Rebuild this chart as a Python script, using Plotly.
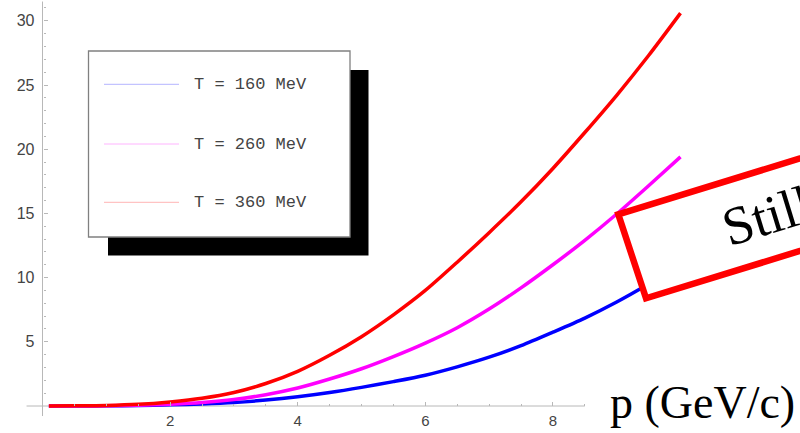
import math
import plotly.graph_objects as go

# ---------------- data ----------------
p_values = [0.1, 0.5, 1.0, 1.5, 2.0, 2.5, 3.0, 3.5, 4.0, 4.5, 5.0,
            5.5, 6.0, 6.5, 7.0, 7.5, 8.0, 8.5, 9.0, 9.5, 10.0]
t160 = [0.0, 0.0, 0.01, 0.03, 0.09, 0.16, 0.27, 0.46, 0.72, 1.05, 1.45,
        1.9, 2.4, 3.05, 3.8, 4.7, 5.75, 6.85, 8.1, 9.5, 11.0]
t260 = [0.0, 0.0, 0.02, 0.06, 0.14, 0.27, 0.5, 0.88, 1.4, 2.1, 2.9,
        3.85, 4.9, 6.1, 7.55, 9.2, 11.0, 12.9, 14.95, 17.15, 19.4]
t360 = [0.0, 0.01, 0.04, 0.13, 0.32, 0.6, 1.05, 1.75, 2.7, 3.95, 5.4,
        7.1, 9.0, 11.2, 13.5, 15.9, 18.5, 21.3, 24.2, 27.3, 30.6]

series_names = ["T = 160 MeV", "T = 260 MeV", "T = 360 MeV"]
series_values = [t160, t260, t360]
series_colors = ["#0000ff", "#ff00ff", "#ff0000"]
legend_colors = ["#b4b4ff", "#ffb4ff", "#ffb4b4"]

x_major_ticks = [2, 4, 6, 8]
x_minor_ticks = [0.5, 1, 1.5, 2.5, 3, 3.5, 4.5, 5, 5.5, 6.5, 7, 7.5, 8.5]
y_major_ticks = [5, 10, 15, 20, 25, 30]
y_minor_ticks = [v for v in range(1, 32) if v % 5 != 0]

x_label = "p (GeV/c)"
note_text = "Still"

# ---------------- geometry helpers ----------------
W, H = 800, 433
X0_PX, X_SCALE = 42.5, 63.8     # pixel of p=0, pixels per unit
Y0_PX, Y_SCALE = 406.0, 12.84   # pixel of y=0, pixels per unit


def px(x):
    return x / W


def py(y):
    return 1 - y / H


x_range = [-X0_PX / X_SCALE, (W - X0_PX) / X_SCALE]
y_range = [-(H - Y0_PX) / Y_SCALE, Y0_PX / Y_SCALE]

fig = go.Figure()
for name, vals, col in zip(series_names, series_values, series_colors):
    fig.add_trace(go.Scatter(
        x=p_values, y=vals, mode="lines", name=name,
        line=dict(color=col, width=3.5, shape="spline", smoothing=0.8),
        showlegend=False, hoverinfo="skip"))

shapes = []
axis_col = "#b8b8b8"
# axis lines
shapes.append(dict(type="line", xref="x", yref="y", x0=-0.25, x1=8.5, y0=0, y1=0,
                   line=dict(color=axis_col, width=1), layer="below"))
shapes.append(dict(type="line", xref="x", yref="y", x0=0, x1=0, y0=-0.78, y1=31.5,
                   line=dict(color=axis_col, width=1), layer="below"))

# legend box with shadow
shapes.append(dict(type="rect", xref="paper", yref="paper",
                   x0=px(108), x1=px(368.5), y0=py(255.5), y1=py(70),
                   fillcolor="black", line=dict(width=0)))
shapes.append(dict(type="rect", xref="paper", yref="paper",
                   x0=px(88.5), x1=px(350), y0=py(237), y1=py(51),
                   fillcolor="white", line=dict(color="#808080", width=1.3)))
legend_rows = [84.3, 144, 202.3]
annotations = []
for name, lc, ry in zip(series_names, legend_colors, legend_rows):
    shapes.append(dict(type="line", xref="paper", yref="paper",
                       x0=px(104), x1=px(179), y0=py(ry), y1=py(ry),
                       line=dict(color=lc, width=1)))
    annotations.append(dict(xref="paper", yref="paper", x=px(192), y=py(ry),
                            text=name, showarrow=False, xanchor="left", yanchor="middle",
                            font=dict(family="Liberation Mono", size=17, color="#444444")))

# rotated red note box
ang = math.radians(17.1)
dx, dy = math.cos(ang), -math.sin(ang)
TL = (618.3, 214.3)
BL = (646.0, 298.3)
L = 320
TR = (TL[0] + L * dx, TL[1] + L * dy)
BR = (BL[0] + L * dx, BL[1] + L * dy)
path = "M {} {} L {} {} L {} {} L {} {} Z".format(
    px(TL[0]), py(TL[1]), px(TR[0]), py(TR[1]),
    px(BR[0]), py(BR[1]), px(BL[0]), py(BL[1]))
shapes.append(dict(type="path", xref="paper", yref="paper", path=path,
                   fillcolor="white", line=dict(color="#ff0000", width=6.5)))

annotations.append(dict(xref="paper", yref="paper", x=px(767), y=py(216),
                        text=note_text, showarrow=False, textangle=-17.1,
                        xanchor="center", yanchor="middle",
                        font=dict(family="Liberation Serif", size=54, color="black")))
annotations.append(dict(xref="paper", yref="paper", x=px(702), y=py(402),
                        text=x_label, showarrow=False,
                        xanchor="center", yanchor="middle",
                        font=dict(family="Liberation Serif", size=46, color="black")))

fig.update_layout(
    width=W, height=H,
    margin=dict(l=0, r=0, t=0, b=0, pad=0),
    paper_bgcolor="white", plot_bgcolor="white",
    showlegend=False,
    shapes=shapes,
    annotations=annotations,
    xaxis=dict(range=x_range, showgrid=False, zeroline=False, showline=False,
               automargin=False, fixedrange=True,
               anchor="free", position=(H - Y0_PX) / H,
               ticks="inside", tickvals=x_major_ticks, ticklen=4, tickcolor=axis_col,
               tickfont=dict(family="Liberation Sans", size=15, color="#444444"),
               ticklabelstandoff=4,
               minor=dict(tickvals=x_minor_ticks, ticks="inside", ticklen=2.5,
                          tickcolor=axis_col, showgrid=False)),
    yaxis=dict(range=y_range, showgrid=False, zeroline=False, showline=False,
               automargin=False, fixedrange=True,
               anchor="free", position=X0_PX / W,
               ticks="inside", tickvals=y_major_ticks, ticklen=4, tickcolor=axis_col,
               tickfont=dict(family="Liberation Sans", size=16, color="#444444"),
               ticklabelstandoff=8,
               minor=dict(tickvals=y_minor_ticks, ticks="inside", ticklen=2.5,
                          tickcolor=axis_col, showgrid=False)),
)

fig.write_html(
    "out.html",
    config={"displayModeBar": False},
    post_script="document.body.style.margin='0';document.body.style.overflow='hidden';",
)
